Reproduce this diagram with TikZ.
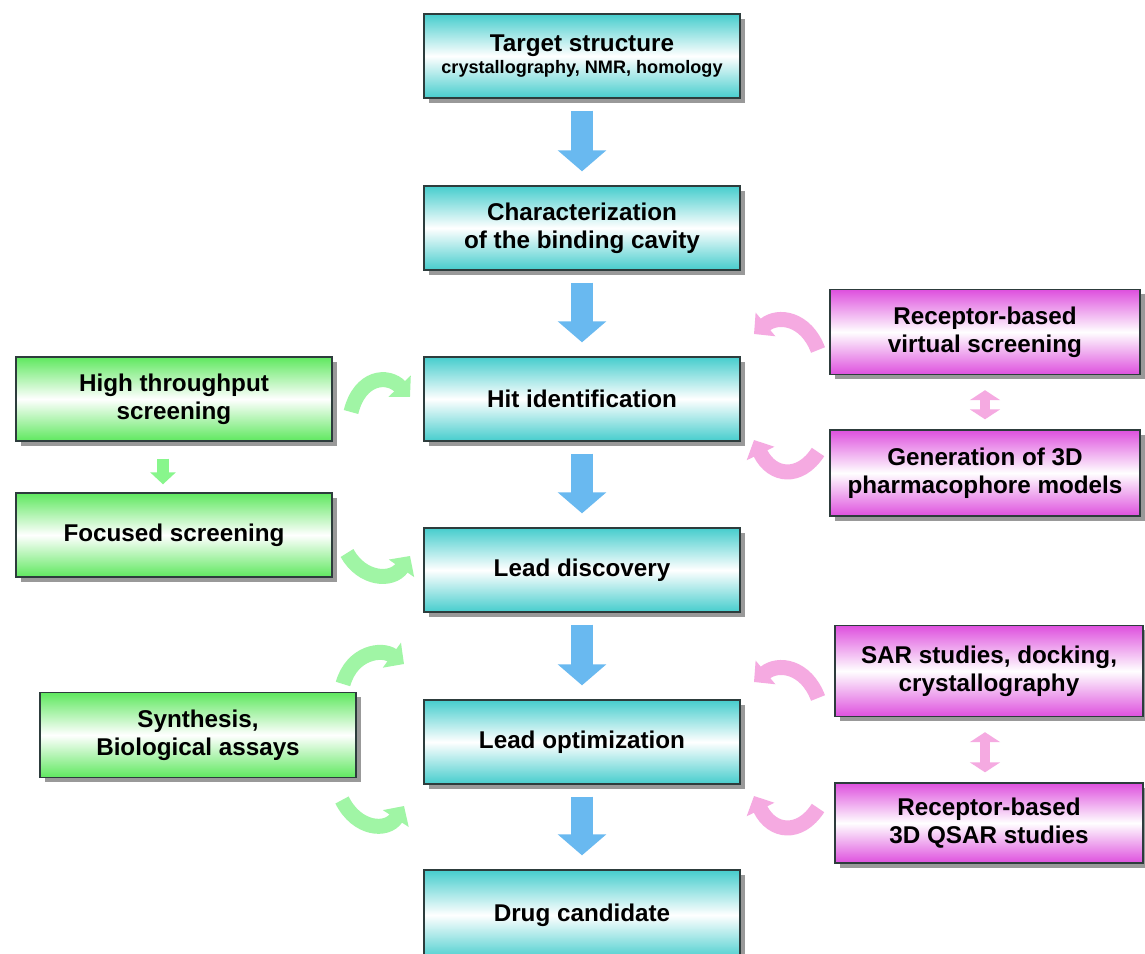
\documentclass[tikz,border=0pt]{standalone}
\usepackage{fontspec}
\setmainfont{Liberation Sans}
\usetikzlibrary{arrows.meta,shadows,calc}
\definecolor{cyanbox}{RGB}{70,205,205}
\definecolor{greenbox}{RGB}{95,232,95}
\definecolor{magbox}{RGB}{222,80,222}
\definecolor{bluearr}{RGB}{105,185,240}
\definecolor{greenarr}{RGB}{160,245,165}
\definecolor{pinkarr}{RGB}{245,170,225}
\definecolor{boxline}{RGB}{45,60,60}
\tikzset{
  box/.style={draw=boxline, line width=0.8pt, minimum width=6.32cm, minimum height=1.68cm,
    align=center, font=\fontsize{13.8}{16}\selectfont\bfseries, text=black, inner sep=2pt,
    drop shadow={shadow xshift=2.8pt, shadow yshift=-2.8pt, fill=black!40, opacity=1}},
  cbox/.style={box, top color=cyanbox, bottom color=cyanbox, middle color=white},
  gbox/.style={box, top color=greenbox, bottom color=greenbox, middle color=white},
  mbox/.style={box, top color=magbox, bottom color=magbox, middle color=white, minimum width=6.2cm},
  bigarrow/.style={draw=bluearr, line width=0.44cm, -{Triangle[length=0.42cm,width=0.95cm]},
    shorten <=0.24cm, shorten >=0.28cm},
  smallgarrow/.style={draw=greenarr!85!green, line width=0.24cm, -{Triangle[length=0.24cm,width=0.5cm]},
    shorten <=0.34cm, shorten >=0.16cm},
  dblparrow/.style={draw=pinkarr, line width=0.2cm, {Triangle[length=0.2cm,width=0.6cm]}-{Triangle[length=0.2cm,width=0.6cm]},
    shorten <=0.3cm, shorten >=0.2cm},
  garc/.style={draw=greenarr, line width=0.3cm, -{Triangle[length=0.3cm,width=0.6cm]}},
  parc/.style={draw=pinkarr, line width=0.3cm, -{Triangle[length=0.3cm,width=0.6cm]}}
}
\begin{document}
\begin{tikzpicture}[x=0.02cm,y=-0.02cm]
\useasboundingbox (0,0) rectangle (1145,953);
\fill[white] (0,0) rectangle (1145,953);

% central column
\node[cbox] (target) at (582,56) {Target structure\\[-3pt]{\fontsize{10.3}{12}\selectfont crystallography, NMR, homology}};
\node[cbox] (charact) at (582,228) {Characterization\\of the binding cavity};
\node[cbox] (hit) at (582,399) {Hit identification};
\node[cbox] (disc) at (582,570) {Lead discovery};
\node[cbox] (opt) at (582,742) {Lead optimization};
\node[cbox, minimum height=1.8cm] (drug) at (582,915) {Drug candidate};

% left column
\node[gbox] (hts) at (174,399) {High throughput\\screening};
\node[gbox] (focus) at (174,535) {Focused screening};
\node[gbox, minimum height=1.7cm] (synth) at (198,735) {Synthesis,\\Biological assays};

% right column
\node[mbox, minimum height=1.7cm] (rbvs) at (985,332) {Receptor-based\\virtual screening};
\node[mbox, minimum height=1.72cm] (gen) at (985,473) {Generation of 3D\\pharmacophore models};
\node[mbox, minimum width=6.16cm, minimum height=1.82cm] (sar) at (989,671) {SAR studies, docking,\\crystallography};
\node[mbox, minimum width=6.16cm, minimum height=1.6cm] (qsar) at (989,823) {Receptor-based\\3D QSAR studies};

% main flow arrows
\draw[bigarrow] (target.south) -- (charact.north);
\draw[bigarrow] (charact.south) -- (hit.north);
\draw[bigarrow] (hit.south) -- (disc.north);
\draw[bigarrow] (disc.south) -- (opt.north);
\draw[bigarrow] (opt.south) -- (drug.north);

% side small arrows
\draw[smallgarrow] ([xshift=-0.22cm]hts.south) -- ([xshift=-0.22cm]focus.north);
\draw[dblparrow] (rbvs.south) -- (gen.north);
\draw[dblparrow] ([xshift=-0.08cm]sar.south) -- ([xshift=-0.08cm]qsar.north);

% curved arrows (green, left)
\coordinate (g1s) at (351,412); \coordinate (g1e) at (410,397);
\coordinate (g2s) at (347,553); \coordinate (g2e) at (410,556);
\coordinate (g3s) at (343,684); \coordinate (g3e) at (404,664);
\coordinate (g4s) at (342,800); \coordinate (g4e) at (404,806);
\draw[garc] (g1s) .. controls (360,376) and (388,374) .. (g1e);
\draw[garc] (g2s) .. controls (362,580) and (392,582) .. (g2e);
\draw[garc] (g3s) .. controls (352,652) and (382,648) .. (g3e);
\draw[garc] (g4s) .. controls (357,830) and (387,832) .. (g4e);

% curved arrows (pink, right)
\coordinate (p1s) at (818,350); \coordinate (p1e) at (754,334);
\coordinate (p2s) at (818,452); \coordinate (p2e) at (754,440);
\coordinate (p3s) at (818,698); \coordinate (p3e) at (754,682);
\coordinate (p4s) at (818,808); \coordinate (p4e) at (754,796);
\draw[parc] (p1s) .. controls (806,318) and (778,314) .. (p1e);
\draw[parc] (p2s) .. controls (800,480) and (772,477) .. (p2e);
\draw[parc] (p3s) .. controls (806,666) and (778,662) .. (p3e);
\draw[parc] (p4s) .. controls (800,836) and (772,833) .. (p4e);
\end{tikzpicture}
\end{document}
